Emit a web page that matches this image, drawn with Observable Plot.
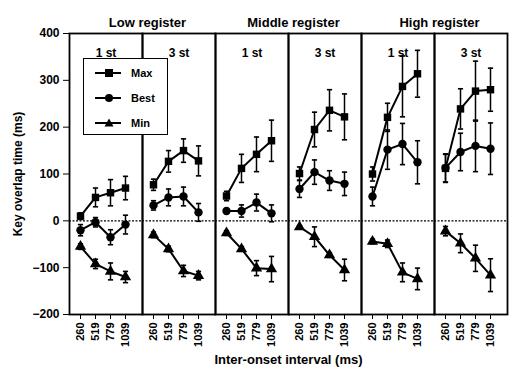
<!DOCTYPE html>
<html><head><meta charset="utf-8">
<script src="https://cdn.jsdelivr.net/npm/d3@7"></script>
<script src="https://cdn.jsdelivr.net/npm/@observablehq/plot@0.6"></script>
<style>
body{margin:0;background:#fff;}
#wrap{position:relative;width:510px;height:375px;}
#legend{position:absolute;left:83px;top:58px;width:85px;height:77px;border:1.5px solid #000;background:#fff;font:bold 11px "Liberation Sans",Arial,sans-serif;box-sizing:border-box;}
.item{position:absolute;left:10px;height:14px;display:flex;align-items:center;}
.item span{margin-left:9px;}
</style>
</head><body><div id="wrap"><div id="legend"></div></div>
<script>
const intervals = ["260", "519", "779", "1039"];
const panels = ["L1", "L3", "M1", "M3", "H1", "H3"];
const stepLabels = ["1 st", "3 st", "1 st", "3 st", "1 st", "3 st"];
const registers = ["Low register", "Middle register", "High register"];
const registerPanels = ["L1", "M1", "H1"];
const seriesNames = ["Max", "Best", "Min"];
const seriesSymbols = ["square", "circle", "triangle"];
const yTicks = [-200, -100, 0, 100, 200, 300, 400];

// rows = panels, columns = intervals
const maxMean = [[10, 50, 60, 70], [77, 127, 150, 128], [53, 112, 142, 171], [101, 195, 236, 222], [100, 221, 287, 314], [112, 239, 277, 280]];
const maxErr  = [[7, 20, 28, 25], [12, 23, 25, 32], [10, 30, 37, 44], [14, 37, 44, 49], [15, 30, 65, 50], [30, 43, 64, 46]];
const bestMean = [[-20, -3, -35, -8], [33, 50, 52, 18], [21, 21, 39, 16], [68, 104, 86, 79], [52, 152, 164, 125], [113, 147, 160, 154]];
const bestErr  = [[12, 10, 16, 20], [10, 18, 20, 19], [5, 13, 18, 18], [18, 26, 21, 25], [20, 42, 44, 46], [30, 40, 55, 55]];
const minMean = [[-55, -92, -108, -120], [-30, -60, -107, -117], [-26, -60, -101, -103], [-13, -34, -73, -105], [-44, -49, -110, -124], [-22, -48, -80, -116]];
const minErr  = [[6, 10, 18, 12], [6, 6, 12, 9], [5, 5, 16, 27], [3, 21, 5, 23], [5, 8, 20, 23], [10, 20, 28, 35]];

const means = [maxMean, bestMean, minMean];
const errs = [maxErr, bestErr, minErr];
const rows = [];
panels.forEach((p, i) => seriesNames.forEach((s, k) => intervals.forEach((iv, j) =>
  rows.push({panel: p, interval: iv, series: s, mean: means[k][i][j], err: errs[k][i][j]}))));
const headers = panels.map((p, i) => ({panel: p, text: stepLabels[i]}));
const groups = registerPanels.map((p, i) => ({panel: p, text: registers[i]}));

const capSymbol = {
  draw(ctx, size) {
    const r = Math.sqrt(size / Math.PI);
    ctx.moveTo(-r, 0);
    ctx.lineTo(r, 0);
  }
};

const chart = Plot.plot({
  width: 510, height: 375,
  marginTop: 33, marginBottom: 61, marginLeft: 66, marginRight: 1,
  style: {fontFamily: "'Liberation Sans', Arial, sans-serif", fontWeight: "bold", background: "white", color: "black"},
  fx: {domain: panels, padding: 0, axis: null, label: null},
  x: {type: "point", domain: intervals, padding: 0, insetLeft: 10, insetRight: 16, label: null},
  y: {domain: [-200, 400], label: null, labelArrow: "none"},
  symbol: {domain: seriesNames, range: seriesSymbols, legend: false},
  marks: [
    Plot.ruleY([0], {strokeDasharray: "2,1.5", strokeWidth: 1.2}),
    Plot.frame({strokeWidth: 1.8}),
    Plot.ruleX(rows, {fx: "panel", x: "interval", y1: d => d.mean - d.err, y2: d => d.mean + d.err, strokeWidth: 1.5}),
    Plot.dot(rows, {fx: "panel", x: "interval", y: d => d.mean + d.err, symbol: capSymbol, r: 2.6, stroke: "black", strokeWidth: 1.6, fill: "none"}),
    Plot.dot(rows, {fx: "panel", x: "interval", y: d => d.mean - d.err, symbol: capSymbol, r: 2.6, stroke: "black", strokeWidth: 1.6, fill: "none"}),
    Plot.line(rows, {fx: "panel", x: "interval", y: "mean", z: "series", strokeWidth: 2}),
    Plot.dot(rows, {fx: "panel", x: "interval", y: "mean", symbol: "series", fill: "black", stroke: "none", r: 4.2}),
    Plot.text(headers, {fx: "panel", text: "text", frameAnchor: "top", dy: 15, fontSize: 12}),
    Plot.text(groups, {fx: "panel", text: "text", frameAnchor: "top-right", dy: -16, dx: 5, textAnchor: "middle", fontSize: 13}),
    Plot.text([{panel: "M1", text: "Inter-onset interval (ms)"}], {fx: "panel", text: "text", frameAnchor: "bottom-right", dy: 49, textAnchor: "middle", fontSize: 13}),
    Plot.axisY(yTicks, {tickSize: 6, tickPadding: 4, fontSize: 12, label: "Key overlap time (ms)", labelAnchor: "center", labelOffset: 56, labelArrow: "none"}),
    Plot.axisX({tickRotate: -90, tickSize: 5, tickPadding: 3, fontSize: 11, label: null})
  ]
});
document.getElementById("wrap").prepend(chart);

// legend
const legend = document.getElementById("legend");
const shapes = {
  square: '<rect x="11" y="3" width="8" height="8" fill="#000"/>',
  circle: '<circle cx="15" cy="7" r="4" fill="#000"/>',
  triangle: '<polygon points="15,2.5 19.5,10.5 10.5,10.5" fill="#000"/>'
};
seriesNames.forEach((s, k) => {
  const div = document.createElement("div");
  div.className = "item";
  div.style.top = (7 + k * 25) + "px";
  div.innerHTML = '<svg width="28" height="14"><line x1="1" y1="7" x2="27" y2="7" stroke="#000" stroke-width="2"/>' + shapes[seriesSymbols[k]] + '</svg><span>' + s + '</span>';
  legend.appendChild(div);
});
</script>
</body></html>
